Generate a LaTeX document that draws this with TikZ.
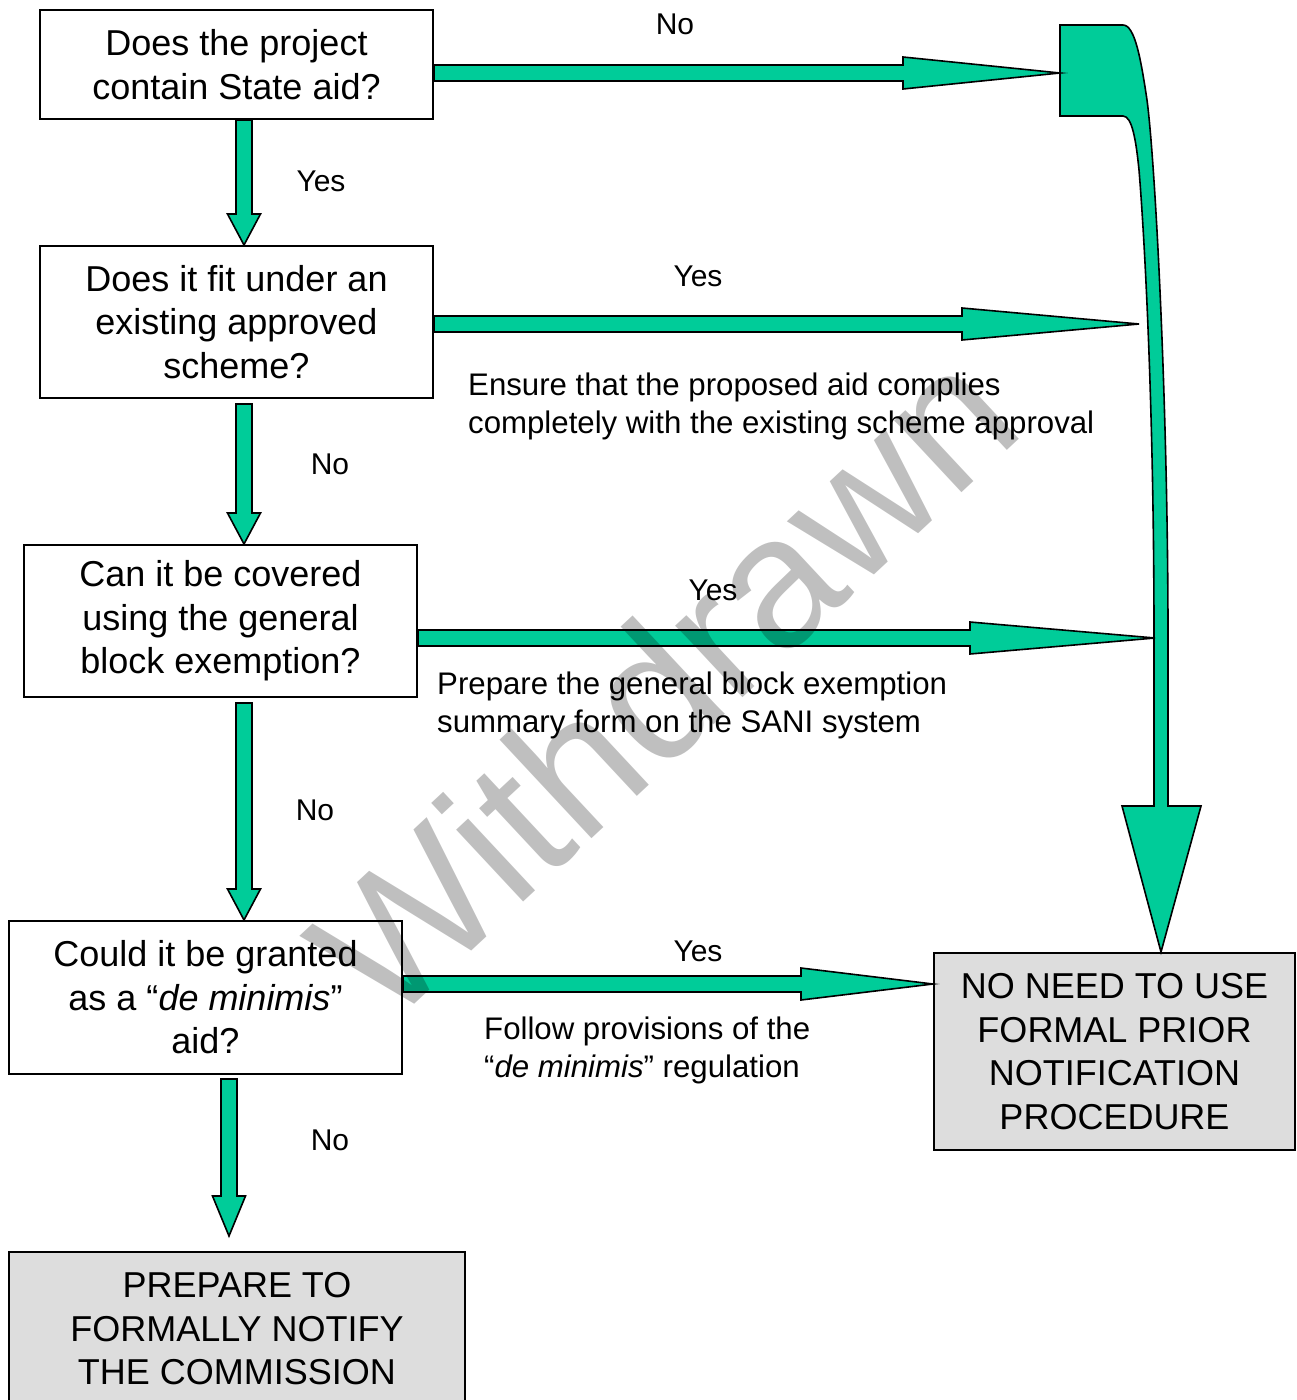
\documentclass[tikz,border=0pt]{standalone}
\usepackage{fontspec}
\setmainfont{Liberation Sans}
\usetikzlibrary{calc}
\definecolor{agreen}{HTML}{00CC99}
\definecolor{boxgray}{HTML}{DDDDDD}
\newcommand{\vblock}[3]{%
  \coordinate (vbs) at (#1);
  \coordinate (vbt) at (#1 |- #2);
  \coordinate (vbh) at ($(vbt)+(0,-#3)$);
  \filldraw[blockarrow] ($(vbs)+(-8,0)$) -- ($(vbh)+(-8,0)$) -- ($(vbh)+(-16.5,0)$) -- (vbt) -- ($(vbh)+(16.5,0)$) -- ($(vbh)+(8,0)$) -- ($(vbs)+(8,0)$) -- cycle;}
\newcommand{\hblock}[3]{%
  \coordinate (hbs) at (#1);
  \coordinate (hbt) at (#1 -| #2);
  \coordinate (hbh) at ($(hbt)+(-#3,0)$);
  \filldraw[blockarrow] ($(hbs)+(0,-8)$) -- ($(hbh)+(0,-8)$) -- ($(hbh)+(0,-16)$) -- (hbt) -- ($(hbh)+(0,16)$) -- ($(hbh)+(0,8)$) -- ($(hbs)+(0,8)$) -- cycle;}
\begin{document}
\begin{tikzpicture}[x=1pt,y=-1pt,
  qbox/.style={draw=black, line width=2pt, fill=white, inner sep=0pt, align=center, font=\fontsize{36}{43.5}\selectfont},
  gbox/.style={qbox, fill=boxgray},
  blockarrow/.style={fill=agreen, draw=black, line width=1.6pt, line join=miter},
  lbl/.style={inner sep=0pt, font=\fontsize{30}{36}\selectfont},
  note/.style={inner sep=0pt, align=left, anchor=west, font=\fontsize{31.2}{38}\selectfont}]
\useasboundingbox (0,0) rectangle (1296,1400);
\clip (0,0) rectangle (1296,1400);

% question boxes
\node[qbox, minimum width=393pt, minimum height=109pt] (b1) at (236.5,64.5) {Does the project\\contain State aid?};
\node[qbox, minimum width=393pt, minimum height=152pt] (b2) at (236.5,322) {Does it fit under an\\existing approved\\scheme?};
\node[qbox, minimum width=393pt, minimum height=152pt] (b3) at (220.5,621) {Can it be covered\\using the general\\block exemption?};
\node[qbox, minimum width=393pt, minimum height=153pt] (b4) at (205.5,997.5) {Could it be granted\\as a “\textit{de minimis}”\\aid?};
\node[gbox, minimum width=361pt, minimum height=197pt] (b5) at (1114.5,1051.5) {NO NEED TO USE\\FORMAL PRIOR\\NOTIFICATION\\PROCEDURE};
\node[gbox, minimum width=456pt, minimum height=154pt, anchor=north] (b6) at (237,1251) {PREPARE TO\\FORMALLY NOTIFY\\THE COMMISSION};

% vertical arrows
\coordinate (s1) at ($(b1.south)+(7.5,0)$);
\coordinate (s2) at ($(b2.south)+(7.5,5)$);
\coordinate (s3) at ($(b3.south)+(23.5,5)$);
\coordinate (s4) at ($(b4.south)+(23.5,4)$);
\coordinate (t4) at ($(b6.north)+(0,-15)$);
\vblock{s1}{b2.north}{31}
\vblock{s2}{b3.north}{31}
\vblock{s3}{b4.north}{31}
\vblock{s4}{t4}{40}

% big bent arrow to the result box
\coordinate (bigin) at (1060,73);
\coordinate (bigtip) at ($(b5.north)+(46.5,0)$);
\coordinate (tipB) at (1139,324);
\coordinate (tipC) at (1155,638);
\filldraw[blockarrow] (1060,25) -- (1123,25) .. controls (1135,25) and (1141,60) .. (1147,100)
  .. controls (1155,160) and (1168,400) .. (1168,638) -- (1168,806) -- (1201,806) -- (bigtip)
  -- (1122,806) -- (1154,806) -- (1154,638) .. controls (1154,400) and (1144,230) .. (1139,170)
  .. controls (1136,140) and (1132,116) .. (1123,116) -- (1060,116) -- cycle;

% horizontal arrows
\coordinate (h1) at ($(b1.east)+(0,8.5)$);
\coordinate (h2) at ($(b2.east)+(0,2)$);
\coordinate (h3) at ($(b3.east)+(0,17)$);
\coordinate (h4) at ($(b4.east)+(0,-13.5)$);
\hblock{h1}{bigin}{157}
\hblock{h2}{tipB}{177}
\hblock{h3}{tipC}{185}
\hblock{h4}{b5.west}{132}

% labels
\node[lbl] (l1) at (675,24) {No};
\node[lbl] (l2) at (321,181) {Yes};
\node[lbl] (l3) at (698,276) {Yes};
\node[lbl] (l4) at (330,464) {No};
\node[lbl] (l5) at (713,590) {Yes};
\node[lbl] (l6) at (315,810) {No};
\node[lbl] (l7) at (698,951) {Yes};
\node[lbl] (l8) at (330,1140) {No};

\node[note] (n1) at (468,406) {Ensure that the proposed aid complies\\completely with the existing scheme approval};
\node[note] (n2) at (437,705) {Prepare the general block exemption\\summary form on the SANI system};
\node[note] (n3) at (484,1050) {Follow provisions of the\\“\textit{de minimis}” regulation};

% watermark
\node[inner sep=0pt, rotate=43, text=black, text opacity=0.25, font=\fontsize{186}{186}\selectfont] (wm) at (662,682) {Withdrawn};
\end{tikzpicture}
\end{document}
